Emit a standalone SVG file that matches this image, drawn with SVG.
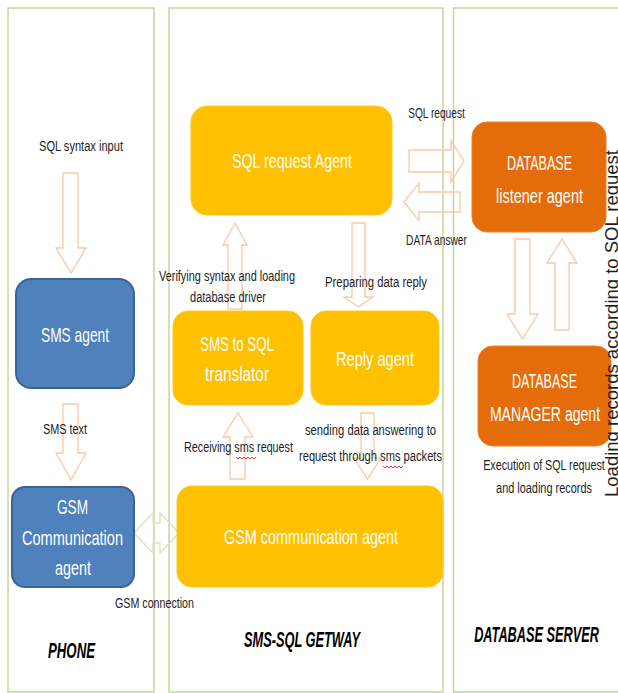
<svg xmlns="http://www.w3.org/2000/svg" width="618" height="693" viewBox="0 0 618 693">
<style>
.panel{fill:none;stroke:#C3D69B;stroke-width:1.5}
.gold{fill:#FFC000;stroke:#FFC81F;stroke-width:1}
.orange{fill:#E46C0A;stroke:#E8802B;stroke-width:1}
.blue{fill:#4F81BD;stroke:#3A6496;stroke-width:2}
.arr{fill:none;stroke:#FAC8A6;stroke-width:1.3;stroke-linejoin:miter}
.garr{fill:none;stroke:#D7E4BD;stroke-width:1.3}
.wt{font-family:"Liberation Sans",Arial,sans-serif;font-size:21px;fill:#FFFFFF;text-anchor:middle}
.lb{font-family:"Liberation Sans",Arial,sans-serif;font-size:14px;fill:#1E1E1E;text-anchor:middle}
.ttl{font-family:"Liberation Sans",Arial,sans-serif;font-size:22px;font-weight:bold;font-style:italic;fill:#000;text-anchor:middle}
.sq{fill:none;stroke:#E02020;stroke-width:0.9}
</style>
<rect width="618" height="693" fill="#FFFFFF"/>
<g id="panels">
<rect class="panel" x="8" y="8" width="146" height="684"/>
<rect class="panel" x="169" y="8" width="274" height="684"/>
<path class="panel" d="M618,8 H453.5 V692 H618"/>
</g>
<g id="connectors">
<polygon class="arr" points="63,173 78,173 78,248 86,248 71,273 56,248 63,248"/>
<polygon class="arr" points="63,404 78,404 78,453 86,453 71,480 56,453 63,453"/>
<polygon class="garr" points="134,533 153,513 153,523 160,523 160,513 179,533 160,553 160,543 153,543 153,553"/>
<polygon class="arr" points="235,223 247,245 242,245 242,309 228,309 228,245 223,245"/>
<polygon class="arr" points="352,223 365,223 365,297 373,297 358.5,307 344,297 352,297"/>
<polygon class="arr" points="238,413 253,437 245,437 245,479 230,479 230,437 223,437"/>
<polygon class="arr" points="361,413 374,413 374,458 381,458 367.5,479 354,458 361,458"/>
<polygon class="arr" points="409,150 451,150 451,141 464,161 451,182 451,172 409,172"/>
<polygon class="arr" points="404,202 419,183 419,192 460,192 460,212 419,212 419,221"/>
<polygon class="arr" points="515,239 530,239 530,314 538,314 522.5,339 507,314 515,314"/>
<polygon class="arr" points="562,239 577,263 569,263 569,330 555,330 555,263 547,263"/>
</g>
<g id="n-sqlreq">
<rect class="gold" x="191" y="106" width="201" height="109" rx="16"/>
<text class="wt" x="292" y="168" textLength="120" lengthAdjust="spacingAndGlyphs">SQL request Agent</text>
</g>
<g id="n-listener">
<rect class="orange" x="472" y="122" width="134" height="110" rx="15"/>
<text class="wt" transform="translate(539.5,170) scale(0.598,1)">DATABASE</text>
<text class="wt" transform="translate(539.5,203) scale(0.69,1)">listener agent</text>
</g>
<g id="n-manager">
<rect class="orange" x="478" y="346" width="133" height="100" rx="15"/>
<text class="wt" transform="translate(544.5,388) scale(0.598,1)">DATABASE</text>
<text class="wt" transform="translate(545,421) scale(0.67,1)">MANAGER  agent</text>
</g>
<g id="n-smsagent">
<rect class="blue" x="16" y="279" width="118" height="109" rx="15"/>
<text class="wt" x="75" y="342" textLength="68" lengthAdjust="spacingAndGlyphs">SMS agent</text>
</g>
<g id="n-gsmphone">
<rect class="blue" x="12" y="487" width="122" height="100" rx="13"/>
<text class="wt" x="72.5" y="514" textLength="31" lengthAdjust="spacingAndGlyphs">GSM</text>
<text class="wt" x="72.5" y="545" textLength="101" lengthAdjust="spacingAndGlyphs">Communication</text>
<text class="wt" x="73" y="575" textLength="36" lengthAdjust="spacingAndGlyphs">agent</text>
</g>
<g id="n-translator">
<rect class="gold" x="173" y="311" width="130" height="94" rx="15"/>
<text class="wt" x="237" y="351" textLength="74" lengthAdjust="spacingAndGlyphs">SMS to SQL</text>
<text class="wt" x="237" y="381" textLength="64" lengthAdjust="spacingAndGlyphs">translator</text>
</g>
<g id="n-reply">
<rect class="gold" x="311" y="311" width="128" height="94" rx="15"/>
<text class="wt" x="375" y="366" textLength="78" lengthAdjust="spacingAndGlyphs">Reply  agent</text>
</g>
<g id="n-gsmgateway">
<rect class="gold" x="177" y="486" width="266" height="101" rx="15"/>
<text class="wt" x="311" y="544" textLength="174" lengthAdjust="spacingAndGlyphs">GSM communication agent</text>
</g>
<g id="labels">
<text class="lb" x="81" y="151" textLength="84" lengthAdjust="spacingAndGlyphs">SQL  syntax input</text>
<text class="lb" x="65" y="434" textLength="44" lengthAdjust="spacingAndGlyphs">SMS text</text>
<text class="lb" x="154.5" y="608" textLength="79" lengthAdjust="spacingAndGlyphs">GSM connection</text>
<text class="lb" x="227" y="281" textLength="136" lengthAdjust="spacingAndGlyphs">Verifying  syntax and loading</text>
<text class="lb" x="228" y="302" textLength="76" lengthAdjust="spacingAndGlyphs">database driver</text>
<text class="lb" x="376" y="287" textLength="102" lengthAdjust="spacingAndGlyphs">Preparing  data reply</text>
<text class="lb" transform="translate(436.5,118) scale(0.725,1)">SQL request</text>
<text class="lb" transform="translate(436.5,245) scale(0.729,1)">DATA answer</text>
<text class="lb" x="238.5" y="452" textLength="109" lengthAdjust="spacingAndGlyphs">Receiving sms request</text>
<text class="lb" x="370.5" y="435" textLength="131" lengthAdjust="spacingAndGlyphs">sending data answering to</text>
<text class="lb" x="370.5" y="461" textLength="143" lengthAdjust="spacingAndGlyphs">request through sms packets</text>
<text class="lb" transform="translate(544,470) scale(0.765,1)">Execution of SQL request</text>
<text class="lb" transform="translate(544,493) scale(0.78,1)">and loading  records</text>
<text class="lb" transform="translate(618,323.5) rotate(-90) scale(1.028,1)" style="font-size:18px">Loading  records  according  to SQL  request</text>
<polyline class="sq" points="236,457 238,459 240,457 242,459 244,457 246,459 248,457 250,459 252,457 254,459 256,457"/>
<polyline class="sq" points="383,466 385,468 387,466 389,468 391,466 393,468 395,466 397,468 399,466 401,468 403,466"/>
</g>
<g id="titles">
<text class="ttl" x="71.5" y="658" textLength="47" lengthAdjust="spacingAndGlyphs">PHONE</text>
<text class="ttl" x="302" y="647" textLength="116" lengthAdjust="spacingAndGlyphs">SMS-SQL GETWAY</text>
<text class="ttl" transform="translate(536.5,642) scale(0.579,1)">DATABASE SERVER</text>
</g>
</svg>
